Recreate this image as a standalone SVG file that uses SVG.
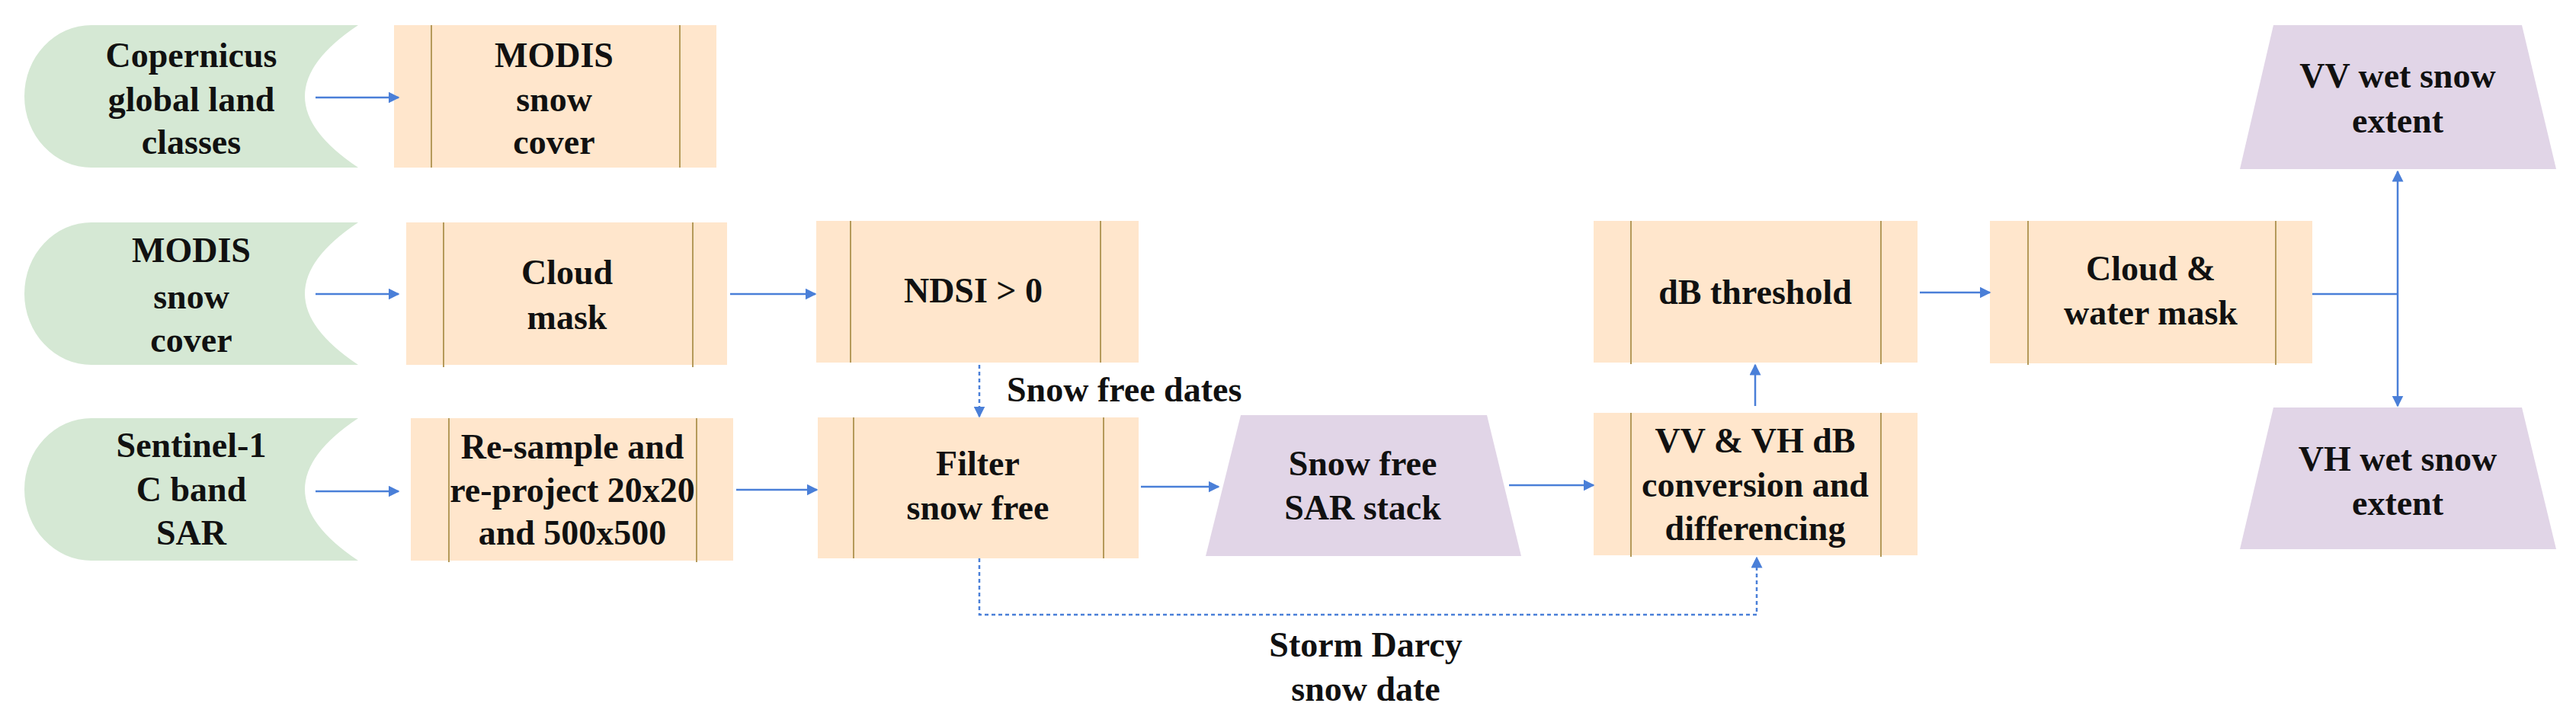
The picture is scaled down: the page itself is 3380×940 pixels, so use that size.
<svg xmlns="http://www.w3.org/2000/svg" width="3380" height="940" viewBox="0 0 3380 940">
<style>
text{font-family:"Liberation Serif","Times New Roman",serif;font-weight:bold;font-size:46px;fill:#111;text-anchor:middle}
.g{fill:#d5e8d4}.o{fill:#ffe6cc}.p{fill:#e1d5e7}
.l{stroke:#b59a5a;stroke-width:2}
.c{stroke:#4a7fd8;stroke-width:2.5;fill:none}
.d{stroke-dasharray:5,4}
</style>
<defs><marker id="a" viewBox="0 0 10 10" refX="9" refY="5" markerWidth="6" markerHeight="6" orient="auto"><path d="M0,0L10,5L0,10Z" fill="#4a7fd8"/></marker></defs>
<g id="copernicus"><path class="g" d="M470,33H120A88,93.5 0 0 0 120,220H470Q330,126.5 470,33Z"/><text x="251" y="88">Copernicus</text><text x="251" y="146">global land</text><text x="251" y="202">classes</text></g>
<g id="modis_in"><path class="g" d="M470,292H120A88,93.5 0 0 0 120,479H470Q330,385.5 470,292Z"/><text x="251" y="344">MODIS</text><text x="251" y="405">snow</text><text x="251" y="462">cover</text></g>
<g id="sentinel"><path class="g" d="M470,549H120A88,93.5 0 0 0 120,736H470Q330,642.5 470,549Z"/><text x="251" y="600">Sentinel-1</text><text x="251" y="658">C band</text><text x="251" y="715">SAR</text></g>
<g id="modis_sc"><rect class="o" x="517" y="33" width="423" height="187"/><line class="l" x1="566" y1="33" x2="566" y2="220"/><line class="l" x1="892" y1="33" x2="892" y2="220"/><text x="727" y="88">MODIS</text><text x="727" y="146">snow</text><text x="727" y="202">cover</text></g>
<g id="cloudmask"><rect class="o" x="533" y="292" width="421" height="187"/><line class="l" x1="582" y1="292" x2="582" y2="482"/><line class="l" x1="909" y1="292" x2="909" y2="482"/><text x="744" y="373">Cloud</text><text x="744" y="432">mask</text></g>
<g id="resample"><rect class="o" x="539" y="549" width="423" height="187"/><line class="l" x1="589" y1="549" x2="589" y2="738"/><line class="l" x1="914" y1="549" x2="914" y2="738"/><text x="751" y="602">Re-sample and</text><text x="751" y="659">re-project  20x20</text><text x="751" y="715">and 500x500</text></g>
<g id="ndsi"><rect class="o" x="1071" y="290" width="423" height="186"/><line class="l" x1="1116" y1="290" x2="1116" y2="476"/><line class="l" x1="1444" y1="290" x2="1444" y2="476"/><text x="1277" y="397">NDSI &gt; 0</text></g>
<g id="filter"><rect class="o" x="1073" y="548" width="421" height="185"/><line class="l" x1="1120" y1="548" x2="1120" y2="733"/><line class="l" x1="1448" y1="548" x2="1448" y2="733"/><text x="1283" y="624">Filter</text><text x="1283" y="682">snow free</text></g>
<g id="sarstack"><path class="p" d="M1628,545H1951L1996,730H1582Z"/><text x="1788" y="624">Snow free</text><text x="1788" y="682">SAR stack</text></g>
<g id="dbthresh"><rect class="o" x="2091" y="290" width="425" height="186"/><line class="l" x1="2140" y1="290" x2="2140" y2="478"/><line class="l" x1="2468" y1="290" x2="2468" y2="478"/><text x="2303" y="399">dB threshold</text></g>
<g id="vvvh"><rect class="o" x="2091" y="542" width="425" height="187"/><line class="l" x1="2140" y1="542" x2="2140" y2="731"/><line class="l" x1="2468" y1="542" x2="2468" y2="731"/><text x="2303" y="594">VV &amp; VH dB</text><text x="2303" y="652">conversion and</text><text x="2303" y="709">differencing</text></g>
<g id="cloudwater"><rect class="o" x="2611" y="290" width="423" height="187"/><line class="l" x1="2661" y1="290" x2="2661" y2="479"/><line class="l" x1="2986" y1="290" x2="2986" y2="479"/><text x="2822" y="368">Cloud &amp;</text><text x="2822" y="426">water mask</text></g>
<g id="vvwet"><path class="p" d="M2983,33H3309L3354,222H2939Z"/><text x="3146" y="115">VV wet snow</text><text x="3146" y="174">extent</text></g>
<g id="vhwet"><path class="p" d="M2983,535H3309L3354,721H2939Z"/><text x="3146" y="618">VH wet snow</text><text x="3146" y="676">extent</text></g>
<g id="connectors">
<path class="c" marker-end="url(#a)" d="M414,128H523"/>
<path class="c" marker-end="url(#a)" d="M414,386H523"/>
<path class="c" marker-end="url(#a)" d="M414,645H523"/>
<path class="c" marker-end="url(#a)" d="M958,386H1070"/>
<path class="c" marker-end="url(#a)" d="M966,643H1072"/>
<path class="c d" marker-end="url(#a)" d="M1285,479V547"/>
<path class="c" marker-end="url(#a)" d="M1497,639H1599"/>
<path class="c" marker-end="url(#a)" d="M1980,637H2091"/>
<path class="c d" marker-end="url(#a)" d="M1285,733V807H2305V732"/>
<path class="c" marker-end="url(#a)" d="M2303,533V479"/>
<path class="c" marker-end="url(#a)" d="M2519,384H2611"/>
<path class="c" d="M3034,386H3146"/>
<path class="c" marker-end="url(#a)" d="M3146,386V225"/>
<path class="c" marker-end="url(#a)" d="M3146,386V533"/>
<text x="1321" y="527" style="text-anchor:start">Snow free dates</text>
<text x="1792" y="862">Storm Darcy</text>
<text x="1792" y="920">snow date</text>
</g>
</svg>
